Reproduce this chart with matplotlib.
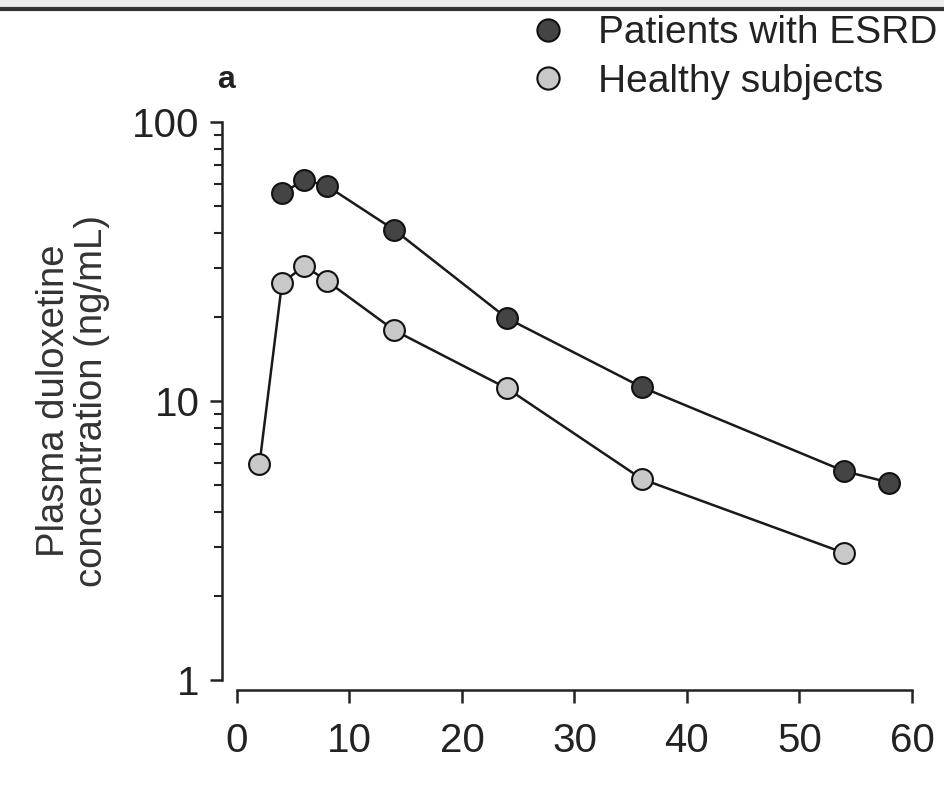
import matplotlib.pyplot as plt
from matplotlib.lines import Line2D

plt.rcParams['font.family'] = ['Liberation Sans', 'DejaVu Sans']

# time (h) and plasma duloxetine concentration (ng/mL)
esrd_time = [4, 6, 8, 14, 24, 36, 54, 58]
esrd_conc = [55.6, 62, 59, 41, 19.8, 11.2, 5.6, 5.1]
healthy_time = [2, 4, 6, 8, 14, 24, 36, 54]
healthy_conc = [5.95, 26.5, 30.5, 26.9, 17.9, 11.1, 5.25, 2.85]

xticks = [0, 10, 20, 30, 40, 50, 60]
yticks = [1, 10, 100]
ytick_labels = ['1', '10', '100']

fig = plt.figure(figsize=(9.45, 7.87), dpi=100)
fig.patch.set_facecolor('white')

# light grey strip and dark rule along the top, as in the scan
fig.add_artist(plt.Rectangle((0, 1 - 8 / 787), 1, 8 / 787, transform=fig.transFigure,
                             color='#ececec', zorder=0))
fig.add_artist(Line2D([0, 1], [1 - 9 / 787, 1 - 9 / 787], transform=fig.transFigure,
                      color='#333333', lw=3))

ax = fig.add_axes([237 / 945, 1 - 680 / 787, (912 - 237) / 945, (680 - 122) / 787])

ax.plot(esrd_time, esrd_conc, color='#1a1a1a', lw=1.8, marker='o', ms=15,
        mfc='#444444', mec='#111111', mew=1.5, zorder=3)
ax.plot(healthy_time, healthy_conc, color='#1a1a1a', lw=1.8, marker='o', ms=15,
        mfc='#c8c8c8', mec='#111111', mew=1.5, zorder=3)

ax.set_yscale('log')
ax.set_xlim(0, 60)
ax.set_ylim(1, 100)
ax.set_xticks(xticks)
ax.set_yticks(yticks)
ax.set_yticklabels(ytick_labels)

for s in ['top', 'right']:
    ax.spines[s].set_visible(False)
ax.spines['left'].set_position(('outward', 11))
ax.spines['bottom'].set_position(('outward', 7.5))
for s in ['left', 'bottom']:
    ax.spines[s].set_linewidth(1.8)
    ax.spines[s].set_color('#222222')

ax.tick_params(axis='both', which='major', length=9, width=1.8, colors='#222222',
               labelsize=29, pad=7)
ax.tick_params(axis='x', which='major', pad=14)
ax.tick_params(axis='y', which='minor', length=6, width=1.5, colors='#222222')

ax.set_ylabel('Plasma duloxetine\nconcentration (ng/mL)', fontsize=27.5, color='#333333',
              linespacing=1.05, labelpad=16)

fig.text(226 / 945, 1 - 80 / 787, 'a', fontsize=23, fontweight='bold', ha='center',
         va='center', color='#222222')

handles = [
    Line2D([], [], ls='none', marker='o', ms=16, mfc='#444444', mec='#111111', mew=1.5),
    Line2D([], [], ls='none', marker='o', ms=16, mfc='#c8c8c8', mec='#111111', mew=1.5),
]
fig.legend(handles, ['Patients with ESRD', 'Healthy subjects'], loc='upper left',
           bbox_to_anchor=(505 / 945, 1 + 8 / 787), frameon=False, fontsize=28,
           handlelength=1.0, handletextpad=0.8, labelspacing=0.32, borderpad=0.1,
           labelcolor='#222222')

fig.savefig('out.png', dpi=100)
